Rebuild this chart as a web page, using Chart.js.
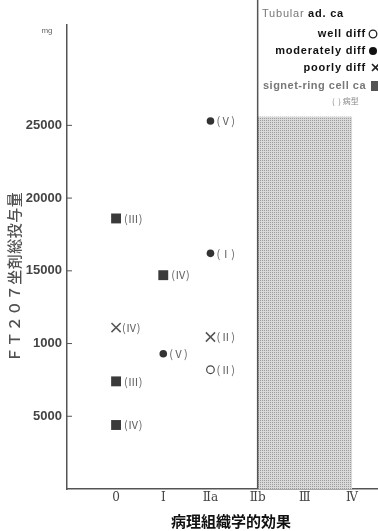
<html><head>
<meta charset="UTF-8">
<title>FT207 坐剤総投与量と病理組織学的効果</title>
<style>
  body {
    margin: 0;
    padding: 0;
    background: #fff;
  }
  #wrap {
    width: 378px;
    height: 531px;
  }
</style>
<script src="https://cdn.jsdelivr.net/npm/chart.js"></script>
</head>
<body>
<div id="wrap"><canvas id="doseChart" width="378" height="531"></canvas></div>

<script>
  // x categories (histological effect)
  var effectLabels = ['0', 'Ⅰ', 'Ⅱa', 'Ⅱb', 'Ⅲ', 'Ⅳ'];
  // y ticks - the scan prints 10000 as "1000", kept as printed
  var doseTicks = [5000, 10000, 15000, 20000, 25000];
  var doseTickLabels = ['5000', '1000', '15000', '20000', '25000'];

  // Tubular ad. ca, well diff
  var wellX = [2];
  var wellY = [8200];
  var wellType = ['(Ⅱ)'];
  // moderately diff
  var modX = [1, 2, 2];
  var modY = [9300, 25300, 16200];
  var modType = ['(Ⅴ)', '(Ⅴ)', '(Ⅰ)'];
  // poorly diff
  var poorX = [0, 2];
  var poorY = [11100, 10450];
  var poorType = ['(Ⅳ)', '(Ⅱ)'];
  // signet-ring cell ca
  var signetX = [0, 1, 0, 0];
  var signetY = [18600, 14700, 7400, 4400];
  var signetType = ['(Ⅲ)', '(Ⅳ)', '(Ⅲ)', '(Ⅳ)'];

  // shaded zone from Ⅱb to Ⅳ
  var shadeFrom = 3;
  var shadeTo = 5;
  var shadeTop = 25600;

  function points(xs, ys, types) {
    return xs.map(function (x, i) { return { x: x, y: ys[i], type: types[i] }; });
  }

  // stipple fill for the shaded zone
  function stipple(ctx) {
    var tile = document.createElement('canvas');
    tile.width = 2;
    tile.height = 2;
    var t = tile.getContext('2d');
    t.fillStyle = '#d9d9d9';
    t.fillRect(0, 0, 2, 2);
    t.fillStyle = '#9c9c9c';
    t.fillRect(0, 0, 1, 1);
    return ctx.createPattern(tile, 'repeat');
  }

  var labelFont = '11px "Noto Sans CJK JP", sans-serif';
  var legendFont = 'bold 11px "Liberation Sans", Arial, sans-serif';

  var decor = {
    id: 'decor',
    beforeDatasetsDraw: function (chart) {
      var ctx = chart.ctx;
      var x = chart.scales.x, y = chart.scales.y;
      var left = x.getPixelForValue(shadeFrom);
      var right = x.getPixelForValue(shadeTo);
      var top = y.getPixelForValue(shadeTop);
      var bottom = y.getPixelForValue(0);
      ctx.save();
      ctx.fillStyle = stipple(ctx);
      ctx.fillRect(left, top, right - left, bottom - top);
      // Ⅱb divider goes up to the top edge
      ctx.strokeStyle = '#555';
      ctx.lineWidth = 1.5;
      ctx.beginPath();
      ctx.moveTo(left, 0);
      ctx.lineTo(left, bottom);
      ctx.stroke();
      // short inward ticks on the y axis
      ctx.lineWidth = 1;
      doseTicks.forEach(function (v) {
        var py = y.getPixelForValue(v);
        ctx.beginPath();
        ctx.moveTo(chart.chartArea.left, py);
        ctx.lineTo(chart.chartArea.left + 5, py);
        ctx.stroke();
      });
      ctx.restore();
    },
    afterDatasetsDraw: function (chart) {
      var ctx = chart.ctx;
      ctx.save();
      ctx.font = labelFont;
      ctx.fillStyle = '#666';
      ctx.textAlign = 'left';
      ctx.textBaseline = 'middle';
      chart.data.datasets.forEach(function (ds, i) {
        var meta = chart.getDatasetMeta(i);
        meta.data.forEach(function (el, j) {
          ctx.fillText(ds.data[j].type, el.x + ds.labelGap, el.y);
        });
      });
      ctx.restore();
    },
    afterDraw: function (chart) {
      var ctx = chart.ctx;
      ctx.save();
      ctx.textBaseline = 'middle';

      // unit
      ctx.fillStyle = '#666';
      ctx.font = '8px "Liberation Sans", sans-serif';
      ctx.textAlign = 'center';
      ctx.fillText('mg', 47, 31);

      // x title
      ctx.fillStyle = '#111';
      ctx.font = 'bold 15px "Noto Sans CJK JP", sans-serif';
      ctx.fillText('病理組織学的効果', 231, 521);

      // y title
      ctx.save();
      ctx.translate(14, 277);
      ctx.rotate(-Math.PI / 2);
      ctx.fillStyle = '#505050';
      ctx.font = '500 15px "Noto Sans CJK JP", sans-serif';
      ctx.letterSpacing = '0.5px';
      ctx.fillText('ＦＴ２０７坐剤総投与量', 0, 0);
      ctx.restore();

      // legend (cut by the right edge like the scan)
      ctx.letterSpacing = '0.8px';
      ctx.textAlign = 'left';
      ctx.font = '11px "Liberation Sans", Arial, sans-serif';
      ctx.fillStyle = '#777';
      ctx.fillText('Tubular', 262, 14);
      ctx.font = legendFont;
      ctx.fillStyle = '#111';
      ctx.fillText('ad. ca', 308, 14);

      ctx.textAlign = 'right';
      ctx.fillText('well diff', 366, 34);
      ctx.fillText('moderately diff', 366, 51);
      ctx.fillText('poorly diff', 366, 68);
      ctx.letterSpacing = '0.5px';
      ctx.fillStyle = '#777';
      ctx.fillText('signet-ring cell ca', 366, 86);
      ctx.letterSpacing = '0px';
      ctx.textAlign = 'left';
      ctx.font = '8px "Noto Sans CJK JP", sans-serif';
      ctx.fillStyle = '#888';
      ctx.fillText('(  ) 病型', 332, 101);

      ctx.strokeStyle = '#222';
      ctx.lineWidth = 1.3;
      ctx.beginPath();
      ctx.arc(373, 34, 3.8, 0, Math.PI * 2);
      ctx.stroke();
      ctx.fillStyle = '#111';
      ctx.beginPath();
      ctx.arc(373, 51, 4, 0, Math.PI * 2);
      ctx.fill();
      ctx.lineWidth = 1.6;
      ctx.beginPath();
      ctx.moveTo(372, 64);
      ctx.lineTo(379, 71);
      ctx.moveTo(379, 64);
      ctx.lineTo(372, 71);
      ctx.stroke();
      ctx.fillStyle = '#555';
      ctx.fillRect(371, 81, 10, 10);
      ctx.restore();
    }
  };

  var ctx = document.getElementById('doseChart').getContext('2d');
  var doseChart = new Chart(ctx, {
    type: 'scatter',
    data: {
      datasets: [{
        label: 'well diff',
        data: points(wellX, wellY, wellType),
        pointStyle: 'circle',
        pointRadius: 3.8,
        pointBorderWidth: 1.2,
        pointBackgroundColor: '#fff',
        pointBorderColor: '#444',
        labelGap: 6
      }, {
        label: 'moderately diff',
        data: points(modX, modY, modType),
        pointStyle: 'circle',
        pointRadius: 3.8,
        pointBorderWidth: 0,
        pointBackgroundColor: '#333',
        pointBorderColor: '#333',
        labelGap: 6
      }, {
        label: 'poorly diff',
        data: points(poorX, poorY, poorType),
        pointStyle: 'crossRot',
        pointRadius: 6.5,
        pointBorderWidth: 1.5,
        pointBorderColor: '#555',
        labelGap: 6
      }, {
        label: 'signet-ring cell ca',
        data: points(signetX, signetY, signetType),
        pointStyle: 'rect',
        pointRadius: 7,
        pointBorderWidth: 0,
        pointBackgroundColor: '#3a3a3a',
        pointBorderColor: '#3a3a3a',
        labelGap: 8
      }]
    },
    options: {
      responsive: false,
      animation: false,
      layout: { autoPadding: false, padding: { top: 25, right: 0, left: 0, bottom: 0 } },
      plugins: {
        legend: { display: false },
        tooltip: { enabled: false }
      },
      scales: {
        x: {
          type: 'linear',
          min: -1.04,
          max: 5.55,
          grid: { display: false, drawTicks: false },
          border: { display: true, color: '#555', width: 1.5 },
          afterBuildTicks: function (scale) {
            scale.ticks = effectLabels.map(function (_, i) { return { value: i }; });
          },
          afterFit: function (scale) {
            scale.height = 42;
            scale.paddingLeft = 0;
            scale.paddingRight = 0;
          },
          ticks: {
            autoSkip: false,
            padding: 2,
            color: '#444',
            font: { family: '"DejaVu Serif", "Noto Sans CJK JP", serif', size: 12 },
            callback: function (v) { return effectLabels[v]; }
          }
        },
        y: {
          min: 0,
          max: 31900,
          grid: { display: false, drawTicks: false },
          border: { display: true, color: '#555', width: 1.5 },
          afterBuildTicks: function (scale) {
            scale.ticks = doseTicks.map(function (v) { return { value: v }; });
          },
          afterFit: function (scale) {
            scale.width = 67;
            scale.paddingTop = 0;
            scale.paddingBottom = 0;
          },
          ticks: {
            padding: 5,
            color: '#444',
            font: { family: '"Liberation Sans", Arial, sans-serif', size: 13, weight: 'bold' },
            callback: function (v, i) { return doseTickLabels[i]; }
          }
        }
      }
    },
    plugins: [decor]
  });
</script>
</body>
</html>
